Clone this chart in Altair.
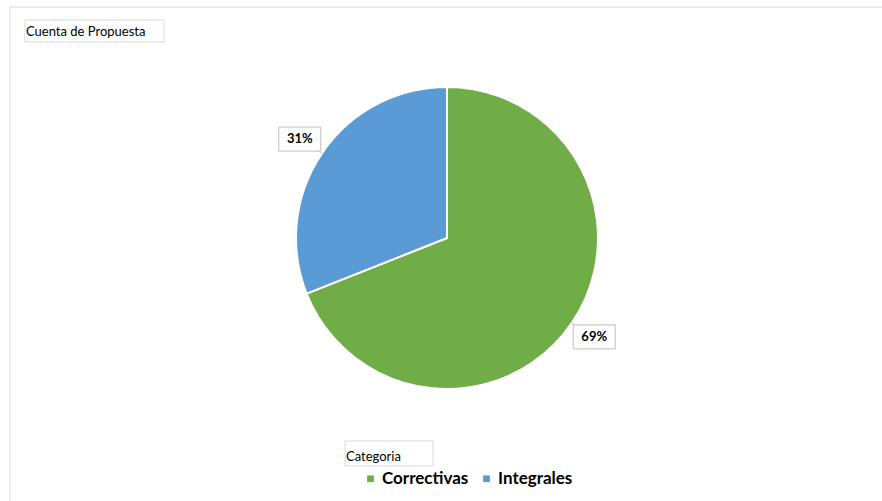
import altair as alt
import pandas as pd

categories = ["Correctivas", "Integrales"]
values = [69, 31]
labels = ["69%", "31%"]
colors = ["#70AD47", "#5B9BD5"]
order = [0, 1]

chart_title = ["Cuenta de Propuesta"]
legend_title = ["Categoria"]

df = pd.DataFrame({"cat": categories, "value": values, "label": labels, "ord": order})

CX, CY, R = 447, 238, 151

base = alt.Chart(df)

frame = alt.Chart(pd.DataFrame({"a": [0]})).mark_rect(
    fill=None, stroke="#D9D9D9", strokeWidth=1
).encode(x=alt.value(10), y=alt.value(7), x2=alt.value(900), y2=alt.value(530))

pie = base.mark_arc(outerRadius=R, stroke="white", strokeWidth=2).encode(
    theta=alt.Theta("value:Q", stack=True),
    color=alt.Color(
        "cat:N",
        scale=alt.Scale(domain=categories, range=colors),
        legend=alt.Legend(
            orient="none", legendX=362, legendY=470, direction="horizontal",
            title=None, symbolType="square", symbolSize=45, symbolStrokeWidth=0,
            labelFont="Lato", labelFontSize=17, labelFontWeight="bold",
            labelColor="#000000", columnPadding=9, labelOffset=3,
        ),
    ),
    order=alt.Order("ord:Q"),
    x=alt.value(CX),
    y=alt.value(CY),
)

pos = base.transform_window(
    cum="sum(value)", sort=[alt.SortField("ord")]
).transform_joinaggregate(total="sum(value)").transform_calculate(
    mid="(datum.cum - datum.value/2)/datum.total*2*PI"
).transform_calculate(
    lx=f"{CX} + 178*sin(datum.mid)",
    ly=f"{CY} - 176*cos(datum.mid)",
    r1x=f"{CX} + {R}*sin(datum.mid)",
    r1y=f"{CY} - {R}*cos(datum.mid)",
    r2x=f"{CX} + 166*sin(datum.mid)",
    r2y=f"{CY} - 166*cos(datum.mid)",
).transform_calculate(
    bx1="datum.lx - 21", bx2="datum.lx + 21",
    by1="datum.ly - 12", by2="datum.ly + 12",
)

leaders = pos.mark_rule(color="#BFBFBF", strokeWidth=1).encode(
    x=alt.X("r1x:Q", scale=None), y=alt.Y("r1y:Q", scale=None),
    x2="r2x:Q", y2="r2y:Q",
)

boxes = pos.mark_rect(fill="white", stroke="#BFBFBF", strokeWidth=1).encode(
    x=alt.X("bx1:Q", scale=None), x2="bx2:Q",
    y=alt.Y("by1:Q", scale=None), y2="by2:Q",
)

label_text = pos.mark_text(
    font="Lato", fontSize=13, fontWeight="bold", color="#000000",
    align="center", baseline="middle",
).encode(x=alt.X("lx:Q", scale=None), y=alt.Y("ly:Q", scale=None), text="label:N")

title_df = pd.DataFrame({"t": chart_title})
title_box = alt.Chart(title_df).mark_rect(fill="white", stroke="#D9D9D9").encode(
    x=alt.value(25), x2=alt.value(164), y=alt.value(20), y2=alt.value(42)
)
title_text = alt.Chart(title_df).mark_text(
    font="Lato", fontSize=13, color="#000000", align="left", baseline="middle"
).encode(x=alt.value(26), y=alt.value(32), text="t:N")

leg_df = pd.DataFrame({"t": legend_title})
leg_box = alt.Chart(leg_df).mark_rect(fill="white", stroke="#D9D9D9").encode(
    x=alt.value(345), x2=alt.value(433), y=alt.value(441), y2=alt.value(466)
)
leg_text = alt.Chart(leg_df).mark_text(
    font="Lato", fontSize=13, color="#000000", align="left", baseline="middle"
).encode(x=alt.value(346), y=alt.value(457), text="t:N")

chart = alt.layer(
    frame, pie, leaders, boxes, label_text, title_box, title_text, leg_box, leg_text
).properties(
    width=882, height=501, padding=0, autosize=alt.AutoSizeParams(type="none"),
    background="white",
).configure_view(stroke=None)

chart.save("out.html", embed_options={"renderer": "svg", "actions": False})
